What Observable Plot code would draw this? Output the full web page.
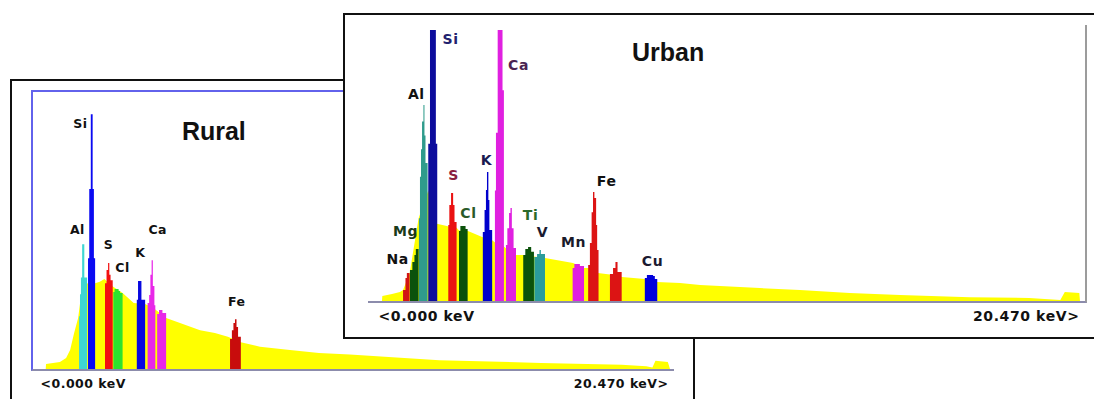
<!DOCTYPE html>
<html>
<head>
<meta charset="utf-8">
<script src="https://cdn.jsdelivr.net/npm/d3@7"></script>
<script src="https://cdn.jsdelivr.net/npm/@observablehq/plot@0.6"></script>
<style>
  html, body { margin: 0; padding: 0; background: #fff; }
  #stage { position: relative; width: 1094px; height: 399px; overflow: hidden; background: #fff; }
  #stage > div { position: absolute; box-sizing: content-box; }
  #ruralFrame { left: 10px; top: 79px; width: 681px; height: 400px; border: 2px solid #111; }
  #ruralBox { left: 31px; top: 90px; width: 641px; height: 277px;
    border-left: 2px solid #6262ec; border-top: 2px solid #6262ec; border-bottom: 2px solid #8c8cac; }
  #urbanFrame { left: 343px; top: 13px; width: 770px; height: 322px; border: 2px solid #111; background: #fff; }
  #urbanBox { left: 368px; top: 25px; width: 717px; height: 276px;
    border-right: 2px solid #9c9c9c; border-bottom: 2px solid #8c8cac; }
  #ruralPlot, #urbanPlot { left: 0; top: 0; }
  #ruralPlot svg text { letter-spacing: 0.5px; }
  #urbanPlot svg text { letter-spacing: 0.6px; }
  #stage g[font-size="25"] text { letter-spacing: 0; }
</style>
</head>
<body>
<div id="stage">
  <div id="ruralFrame"></div>
  <div id="ruralBox"></div>
  <div id="ruralPlot"></div>
  <div id="urbanFrame"></div>
  <div id="urbanBox"></div>
  <div id="urbanPlot"></div>
</div>
<script>
// ---------- shared ----------
const keVRange = [0, 20.47];
const axisText = ["<0.000 keV", "20.470 keV>"];
const panelTitles = ["Rural", "Urban"];

// ---------- RURAL spectrum: [keV, relative intensity %] ----------
const ruralBackground = [
  [0.25, 0], [0.26, 1.8], [0.71, 2.5], [0.91, 4], [1.04, 6.9], [1.17, 13], [1.30, 18.4],
  [1.40, 27], [1.60, 31], [1.85, 31], [2.0, 31.5], [2.15, 32.5], [2.4, 30], [2.74, 27.4],
  [3.1, 23.8], [3.47, 23.5], [3.55, 23], [3.8, 21.5], [4.15, 18.4], [4.6, 16.6], [5.25, 14],
  [5.73, 13], [6.15, 11.6], [6.57, 9.7], [7.19, 8], [8.16, 6.9], [9.1, 5.8], [10.1, 5.2],
  [13.0, 3.2], [16.3, 2.2], [18.9, 1.5], [19.7, 1.0], [19.9, 0.5], [20.0, 3], [20.4, 2.5], [20.47, 0]
];
const ruralAl   = [[1.33, 19], [1.36, 27], [1.39, 33], [1.43, 45], [1.50, 33], [1.59, 33]];
const ruralSi   = [[1.62, 40], [1.66, 65], [1.71, 92], [1.77, 65], [1.81, 40], [1.85, 40]];
const ruralS    = [[2.17, 31], [2.22, 35.7], [2.27, 38.3], [2.31, 34], [2.35, 32], [2.42, 32]];
const ruralCl   = [[2.44, 27.8], [2.48, 28.9], [2.61, 28.2], [2.66, 27.4], [2.74, 27.4]];
const ruralK    = [[3.20, 25], [3.24, 31.8], [3.35, 25], [3.47, 25]];
const ruralCa   = [[3.55, 23.8], [3.60, 26.7], [3.64, 34], [3.68, 39.3], [3.72, 30], [3.77, 23], [3.80, 23]];
const ruralCaKb = [[3.86, 19.9], [3.92, 21.3], [4.03, 20.2], [4.15, 20.2]];
const ruralFe   = [[6.22, 10.8], [6.28, 14], [6.33, 16.6], [6.38, 18], [6.43, 15.2], [6.48, 11.6], [6.57, 11.6]];
const ruralRois   = [ruralAl, ruralSi, ruralS, ruralCl, ruralK, ruralCa, ruralCaKb, ruralFe];
const ruralRoiEls = ["Al", "Si", "S", "Cl", "K", "Ca", "Ca", "Fe"];
const ruralLabels   = ["Si", "Al", "S", "Cl", "K", "Ca", "Fe"];
const ruralLabelKeV = [1.36, 1.26, 2.27, 2.72, 3.30, 3.86, 6.42];
const ruralLabelI   = [88.8, 50.2, 44.8, 36.5, 41.9, 50.5, 24.5];
const ruralTitleAt  = [5.68, 85.7];

// ---------- URBAN spectrum ----------
const urbanBackground = [
  [0.26, 0], [0.27, 1.8], [0.55, 2.5], [0.78, 3.3], [0.87, 4], [1.06, 10], [1.32, 30], [1.6, 40],
  [1.85, 28], [1.88, 27.9], [2.14, 27.2], [2.18, 27], [2.42, 26.5], [2.49, 25.5], [2.75, 25.4],
  [3.16, 23.2], [3.45, 22], [3.55, 21], [3.77, 20], [3.85, 19], [4.14, 16.7], [4.34, 16.7],
  [4.98, 15.6], [5.79, 13.8], [6.11, 12], [6.23, 12], [6.51, 10.1], [6.86, 9.6], [7.21, 8.7],
  [7.87, 8.0], [8.22, 6.9], [8.89, 6.5], [9.47, 5.8], [11.2, 4.7], [12.36, 4.0], [13.8, 2.9],
  [15.26, 2.2], [17.28, 1.4], [19.0, 1.1], [19.45, 0.7], [19.9, 0.4], [20.03, 3.3], [20.45, 2.9], [20.47, 0]
];
const urbanNa   = [[0.87, 4], [0.94, 8.3], [0.98, 10.1], [1.06, 10.1]];
const urbanMg   = [[1.07, 11.2], [1.14, 14.1], [1.20, 16.7], [1.24, 18.8], [1.32, 18.8]];
const urbanAl   = [[1.33, 30], [1.36, 45], [1.39, 55], [1.42, 65], [1.46, 71], [1.49, 60], [1.52, 50], [1.58, 50]];
const urbanSi   = [[1.60, 57], [1.65, 98.2], [1.82, 57], [1.86, 57]];
const urbanS    = [[2.18, 27.5], [2.21, 34.8], [2.26, 39.1], [2.32, 34.8], [2.36, 28.6], [2.42, 28.6]];
const urbanCl   = [[2.49, 25.4], [2.53, 27.2], [2.68, 26.1], [2.74, 26.1]];
const urbanK    = [[3.18, 25], [3.23, 33], [3.27, 40.2], [3.30, 46.7], [3.34, 36.6], [3.37, 25.7], [3.45, 25.7]];
const urbanCa   = [[3.53, 40], [3.56, 61], [3.61, 98.2], [3.75, 76.4], [3.79, 76.4]];
const urbanCaKb = [[3.85, 20.3], [3.89, 26.4], [3.94, 31.9], [3.98, 33.7], [4.02, 26.4], [4.07, 19.2], [4.14, 19.2]];
const urbanTi   = [[4.35, 16.7], [4.41, 18.8], [4.49, 19.6], [4.58, 17.8], [4.66, 17.8]];
const urbanV    = [[4.67, 15.9], [4.75, 17], [4.82, 18.5], [4.86, 17], [4.98, 17]];
const urbanMn   = [[5.78, 12], [5.83, 13.4], [5.99, 12.7], [6.11, 12.7]];
const urbanFe   = [[6.23, 13], [6.28, 21], [6.33, 32.2], [6.37, 39.5], [6.41, 37.3], [6.46, 27.5], [6.49, 18.5], [6.53, 18.5]];
const urbanFeKb = [[6.86, 9.8], [6.95, 12], [7.02, 14.1], [7.08, 10.5], [7.20, 10.5]];
const urbanCu   = [[7.87, 8.3], [7.93, 9.4], [8.11, 9.1], [8.16, 8], [8.23, 8]];
const urbanRois   = [urbanNa, urbanMg, urbanAl, urbanSi, urbanS, urbanCl, urbanK, urbanCa, urbanCaKb,
                     urbanTi, urbanV, urbanMn, urbanFe, urbanFeKb, urbanCu];
const urbanRoiEls = ["Na", "Mg", "Al", "Si", "S", "Cl", "K", "Ca", "Ca", "Ti", "V", "Mn", "Fe", "Fe", "Cu"];
const urbanLabels   = ["Si", "Ca", "Al", "K", "S", "Cl", "Ti", "V", "Mg", "Na", "Mn", "Fe", "Cu"];
const urbanLabelKeV = [2.23, 4.20, 1.24, 3.27, 2.32, 2.75, 4.55, 4.89, 0.93, 0.70, 5.79, 6.75, 8.08];
const urbanLabelI   = [94.9, 85.5, 75, 51.1, 45.7, 31.9, 31.2, 25.0, 25.4, 15.2, 21.4, 43.5, 14.5];
const urbanTitleAt  = [8.53, 89.9];

// ---------- styles ----------
const ruralElements = ["Al", "Si", "S", "Cl", "K", "Ca", "Fe"];
const ruralColors   = ["#3ed6d2", "#0a0af2", "#f21010", "#2ee22e", "#0808e0", "#e828e8", "#c80c0c"];
const urbanElements = ["Na", "Mg", "Al", "Si", "S", "Cl", "K", "Ca", "Ti", "V", "Mn", "Fe", "Cu"];
const urbanColors   = ["#d21414", "#0b520b", "#2f9c8c", "#0c0c9c", "#ea1212", "#0b520b", "#0000cc",
                       "#e020e0", "#0b520b", "#2a9c9c", "#e020e0", "#dc1414", "#0000dc"];
const urbanLabelInk = ["#22226e", "#4a2452", "#111", "#1a1a50", "#8a2040", "#2a5a2a", "#2a6a2a",
                       "#1a1a30", "#1a3a1a", "#111", "#1a1a2a", "#111", "#1a1a30"];

function roiTable(rois, els) {
  return rois.flatMap((pts, i) => pts.map(([k, v]) => ({seg: i, el: els[i], keV: k, I: v})));
}
function bgTable(pts) { return pts.map(([k, v]) => ({keV: k, I: v})); }

function panel({bg, rois, els, domainEls, colors, xRange, yRange, labels, labelKeV, labelI, labelInk,
                labelSize, title, titleAt, axisDy, axisDx}) {
  const marks = [
    Plot.areaY(bgTable(bg), {x: "keV", y: "I", fill: "#ffff00", curve: "linear"}),
    Plot.areaY(roiTable(rois, els), {x: "keV", y: "I", z: "seg", fill: "el", curve: "step-after"}),
    ...labels.map((t, i) => Plot.text([t], {
      x: [labelKeV[i]], y: [labelI[i]], text: d => d,
      fill: labelInk ? labelInk[i] : "#111",
      fontSize: labelSize, fontWeight: "bold", fontFamily: "DejaVu Sans"
    })),
    Plot.text([title], {x: [titleAt[0]], y: [titleAt[1]], text: d => d, fill: "#111",
      fontSize: 25, fontWeight: "bold", fontFamily: "Liberation Sans, Arial"}),
    Plot.text([axisText[0]], {x: [keVRange[0]], y: [0], text: d => d, dy: axisDy, dx: axisDx[0],
      textAnchor: "start", fill: "#111", fontSize: labelSize, fontWeight: "bold", fontFamily: "DejaVu Sans"}),
    Plot.text([axisText[1]], {x: [keVRange[1]], y: [0], text: d => d, dy: axisDy, dx: axisDx[1],
      textAnchor: "end", fill: "#111", fontSize: labelSize, fontWeight: "bold", fontFamily: "DejaVu Sans"})
  ];
  return Plot.plot({
    width: 1094, height: 399, margin: 0,
    style: {background: "transparent", overflow: "visible"},
    x: {domain: keVRange, range: xRange, axis: null},
    y: {domain: [0, 100], range: yRange, axis: null},
    color: {type: "ordinal", domain: domainEls, range: colors},
    marks
  });
}

document.getElementById("ruralPlot").appendChild(panel({
  bg: ruralBackground, rois: ruralRois, els: ruralRoiEls, domainEls: ruralElements, colors: ruralColors,
  xRange: [38, 670], yRange: [369, 92],
  labels: ruralLabels, labelKeV: ruralLabelKeV, labelI: ruralLabelI, labelInk: null,
  labelSize: 12.5, title: panelTitles[0], titleAt: ruralTitleAt, axisDy: 14, axisDx: [2, -2]
}));
document.getElementById("urbanPlot").appendChild(panel({
  bg: urbanBackground, rois: urbanRois, els: urbanRoiEls, domainEls: urbanElements, colors: urbanColors,
  xRange: [373, 1080], yRange: [301, 25],
  labels: urbanLabels, labelKeV: urbanLabelKeV, labelI: urbanLabelI, labelInk: urbanLabelInk,
  labelSize: 14, title: panelTitles[1], titleAt: urbanTitleAt, axisDy: 15, axisDx: [5, -1]
}));
</script>
</body>
</html>
